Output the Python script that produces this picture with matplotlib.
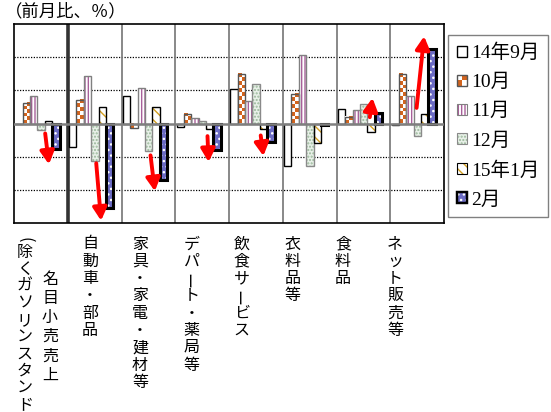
import matplotlib
matplotlib.use("Agg")
import matplotlib.pyplot as plt
import numpy as np
from matplotlib.patches import Rectangle
from matplotlib.colors import ListedColormap
from matplotlib.legend_handler import HandlerBase
from matplotlib import transforms

plt.rcParams['font.family'] = ['Liberation Serif', 'Noto Sans CJK JP', 'DejaVu Sans']
plt.rcParams['hatch.linewidth'] = 1.0

# ---------------- data ----------------
categories = ['名目小売売上', '自動車・部品', '家具・家電・建材等', 'デパート・薬局等',
              '飲食サービス', '衣料品等', '食料品', 'ネット販売等']
sub_label = '（除くガソリンスタンド）'
series_names = ['14年9月', '10月', '11月', '12月', '15年1月', '2月']
sep14 = [0.00, -0.72, 0.82, -0.10, 1.05, -1.27, 0.45, -0.05]
oct14 = [0.62, 0.72, -0.15, 0.29, 1.48, 0.89, 0.19, 1.48]
nov14 = [0.82, 1.43, 1.08, 0.17, 0.69, 2.07, 0.42, 0.82]
dec14 = [-0.20, -1.13, -0.84, 0.09, 1.20, -1.27, 0.59, -0.38]
jan15 = [0.07, 0.49, 0.49, -0.18, -0.17, -0.59, -0.25, 0.29]
feb15 = [-0.76, -2.55, -1.70, -0.81, -0.56, -0.04, 0.31, 2.25]
series = [sep14, oct14, nov14, dec14, jan15, feb15]

# trend arrows (start -> end, data units)
arrow_start = [(0.58, -0.30), (1.53, -1.20), (2.54, -0.96), (3.60, -0.38),
               (4.59, -0.36), (6.62, 0.19), (7.49, 0.47)]
arrow_end = [(0.65, -1.23), (1.62, -2.93), (2.62, -2.04), (3.62, -1.16),
             (4.64, -0.98), (6.67, 0.77), (7.63, 2.63)]

# ---------------- styles ----------------
ORANGE = '#D2641E'
styles = [
    dict(face='white', hatch=None, hcol=None, edge='black', lw=1.0),
    dict(face='checker', hatch=None, hcol=None, edge='#555555', lw=1.0),
    dict(face='white', hatch='|||||', hcol='#A8609A', edge='#808080', lw=1.0),
    dict(face='#E8F0E8', hatch='.....', hcol='#9AB89A', edge='#8A8A8A', lw=1.0),
    dict(face='white', hatch='\\\\\\', hcol='#D4A020', edge='black', lw=1.0),
    dict(face='#6B6BC4', hatch='...', hcol='white', edge='black', lw=2.2),
]

W, H = 551, 412
fig = plt.figure(figsize=(W / 100, H / 100), dpi=100)
ax = fig.add_axes([14 / W, 1 - 223 / H, (444 - 14) / W, (223 - 24) / H])
ax.set_xlim(0, 8)
ax.set_ylim(-3, 3)

px_per_y = (223 - 24) / 6.0
cell = 3.7
checker_cmap = ListedColormap(['white', ORANGE])

bw = 0.137
off = 0.025
x = np.arange(len(categories))
for i, (vals, st) in enumerate(zip(series, styles)):
    lefts = x + off + i * bw
    if st['face'] == 'checker':
        for l, v in zip(lefts, vals):
            rows = max(1, int(round(abs(v) * px_per_y / cell)))
            arr = (np.add.outer(np.arange(rows), np.arange(2)) % 2 == 0).astype(int)
            ax.imshow(arr, cmap=checker_cmap, vmin=0, vmax=1, origin='lower',
                      extent=(l, l + bw, min(0, v), max(0, v)),
                      aspect='auto', interpolation='nearest', zorder=2)
        ax.bar(lefts, vals, width=bw, align='edge', facecolor='none',
               edgecolor=st['edge'], linewidth=st['lw'], zorder=2.5)
    else:
        if st['hatch']:
            ax.bar(lefts, vals, width=bw, align='edge', facecolor=st['face'],
                   edgecolor=st['hcol'], hatch=st['hatch'], linewidth=0, zorder=2)
            ax.bar(lefts, vals, width=bw, align='edge', facecolor='none',
                   edgecolor=st['edge'], linewidth=st['lw'], zorder=2.5)
        else:
            ax.bar(lefts, vals, width=bw, align='edge', facecolor=st['face'],
                   edgecolor=st['edge'], linewidth=st['lw'], zorder=2)

ax.set_xlim(0, 8)
ax.set_ylim(-3, 3)

# grid / dividers
for yv in [-2, -1, 1, 2]:
    ax.axhline(yv, color='black', lw=0.9, ls=(0, (1, 1.2)), zorder=1)
ax.axhline(0, color='#7F7F7F', lw=1.8, zorder=3)
for xv in range(1, 8):
    if xv == 1:
        ax.axvline(xv, color='#333333', lw=2.6, zorder=1)
    else:
        ax.axvline(xv, color='#7F7F7F', lw=1.3, zorder=1)
for s in ax.spines.values():
    s.set_color('black')
    s.set_linewidth(1.2)
ax.set_xticks([])
ax.set_yticks([])

# arrows
for (x0, y0), (x1, y1) in zip(arrow_start, arrow_end):
    ax.annotate('', xy=(x1, y1), xytext=(x0, y0),
                arrowprops=dict(arrowstyle='-|>,head_length=0.55,head_width=0.3',
                                color='#FF0000', lw=2.8, shrinkA=0, shrinkB=0,
                                mutation_scale=14),
                zorder=5)

# title
fig.text(5 / W, 1 - 11 / H, '（前月比、％）', fontsize=12.5, va='center', ha='left',
         family=['Noto Sans CJK JP', 'DejaVu Sans'])

# vertical category labels
label_x = [0.67, 1.414, 2.344, 3.306, 4.236, 5.19, 6.12, 7.09]
label_y0 = [279, 244, 244, 244, 244, 244, 244, 244]
label_pitch = [19.2, 17.3, 17.3, 17.3, 17.3, 17.3, 17.3, 17.3]
trans = transforms.blended_transform_factory(ax.transData, fig.transFigure)
# glyphs turned sideways in vertical writing (parens drawn with their narrow form)
rot_chars = {'ー': ('ー', 90), '（': ('(', -90), '）': (')', -90)}


def vtext(xd, y0px, text, pitch, fs=11.5):
    y = y0px
    for ch in text:
        glyph, rot = rot_chars.get(ch, (ch, 0))
        small = ch in '（）'
        if small:
            y -= pitch * 0.25
        ax.text(xd, 1 - y / H, glyph, transform=trans, fontsize=fs,
                rotation=rot, ha='center', va='center',
                family=['Noto Sans CJK JP'], rotation_mode='default', clip_on=False)
        y += pitch * (0.75 if small else 1.0)


for xd, y0, p, cat in zip(label_x, label_y0, label_pitch, categories):
    vtext(xd, y0, cat, p)
vtext(0.20, 244, sub_label, 17.0)


# legend
class PatternHandler(HandlerBase):
    def create_artists(self, legend, orig_handle, xdescent, ydescent, width,
                       height, fontsize, trans):
        st = orig_handle
        s = min(width, height)
        x0 = -xdescent + (width - s) / 2
        y0 = -ydescent + (height - s) / 2
        arts = []
        if st['face'] == 'checker':
            h = s / 2
            for r in range(2):
                for c in range(2):
                    col = ORANGE if (r + c) % 2 == 0 else 'white'
                    arts.append(Rectangle((x0 + c * h, y0 + r * h), h, h,
                                          facecolor=col, edgecolor='none',
                                          transform=trans))
            arts.append(Rectangle((x0, y0), s, s, facecolor='none',
                                  edgecolor=st['edge'], lw=1.0, transform=trans))
        else:
            if st['hatch']:
                arts.append(Rectangle((x0, y0), s, s, facecolor=st['face'],
                                      edgecolor=st['hcol'], hatch=st['hatch'],
                                      lw=0, transform=trans))
                arts.append(Rectangle((x0, y0), s, s, facecolor='none',
                                      edgecolor=st['edge'], lw=st['lw'] * 0.8,
                                      transform=trans))
            else:
                arts.append(Rectangle((x0, y0), s, s, facecolor=st['face'],
                                      edgecolor=st['edge'], lw=st['lw'],
                                      transform=trans))
        return arts


class StyleProxy(dict):
    pass


proxies = [StyleProxy(st) for st in styles]
leg = fig.legend(proxies, series_names,
                 handler_map={StyleProxy: PatternHandler()},
                 loc='upper left', bbox_to_anchor=(448 / W, 1 - 35 / H),
                 bbox_transform=fig.transFigure, borderaxespad=0,
                 fontsize=14, frameon=True, fancybox=False,
                 edgecolor='#808080', framealpha=1,
                 handlelength=0.55, handleheight=0.55, handletextpad=0.2,
                 labelspacing=0.6, borderpad=0.45)
leg.get_frame().set_linewidth(1.0)

fig.savefig('out.png', dpi=100)
